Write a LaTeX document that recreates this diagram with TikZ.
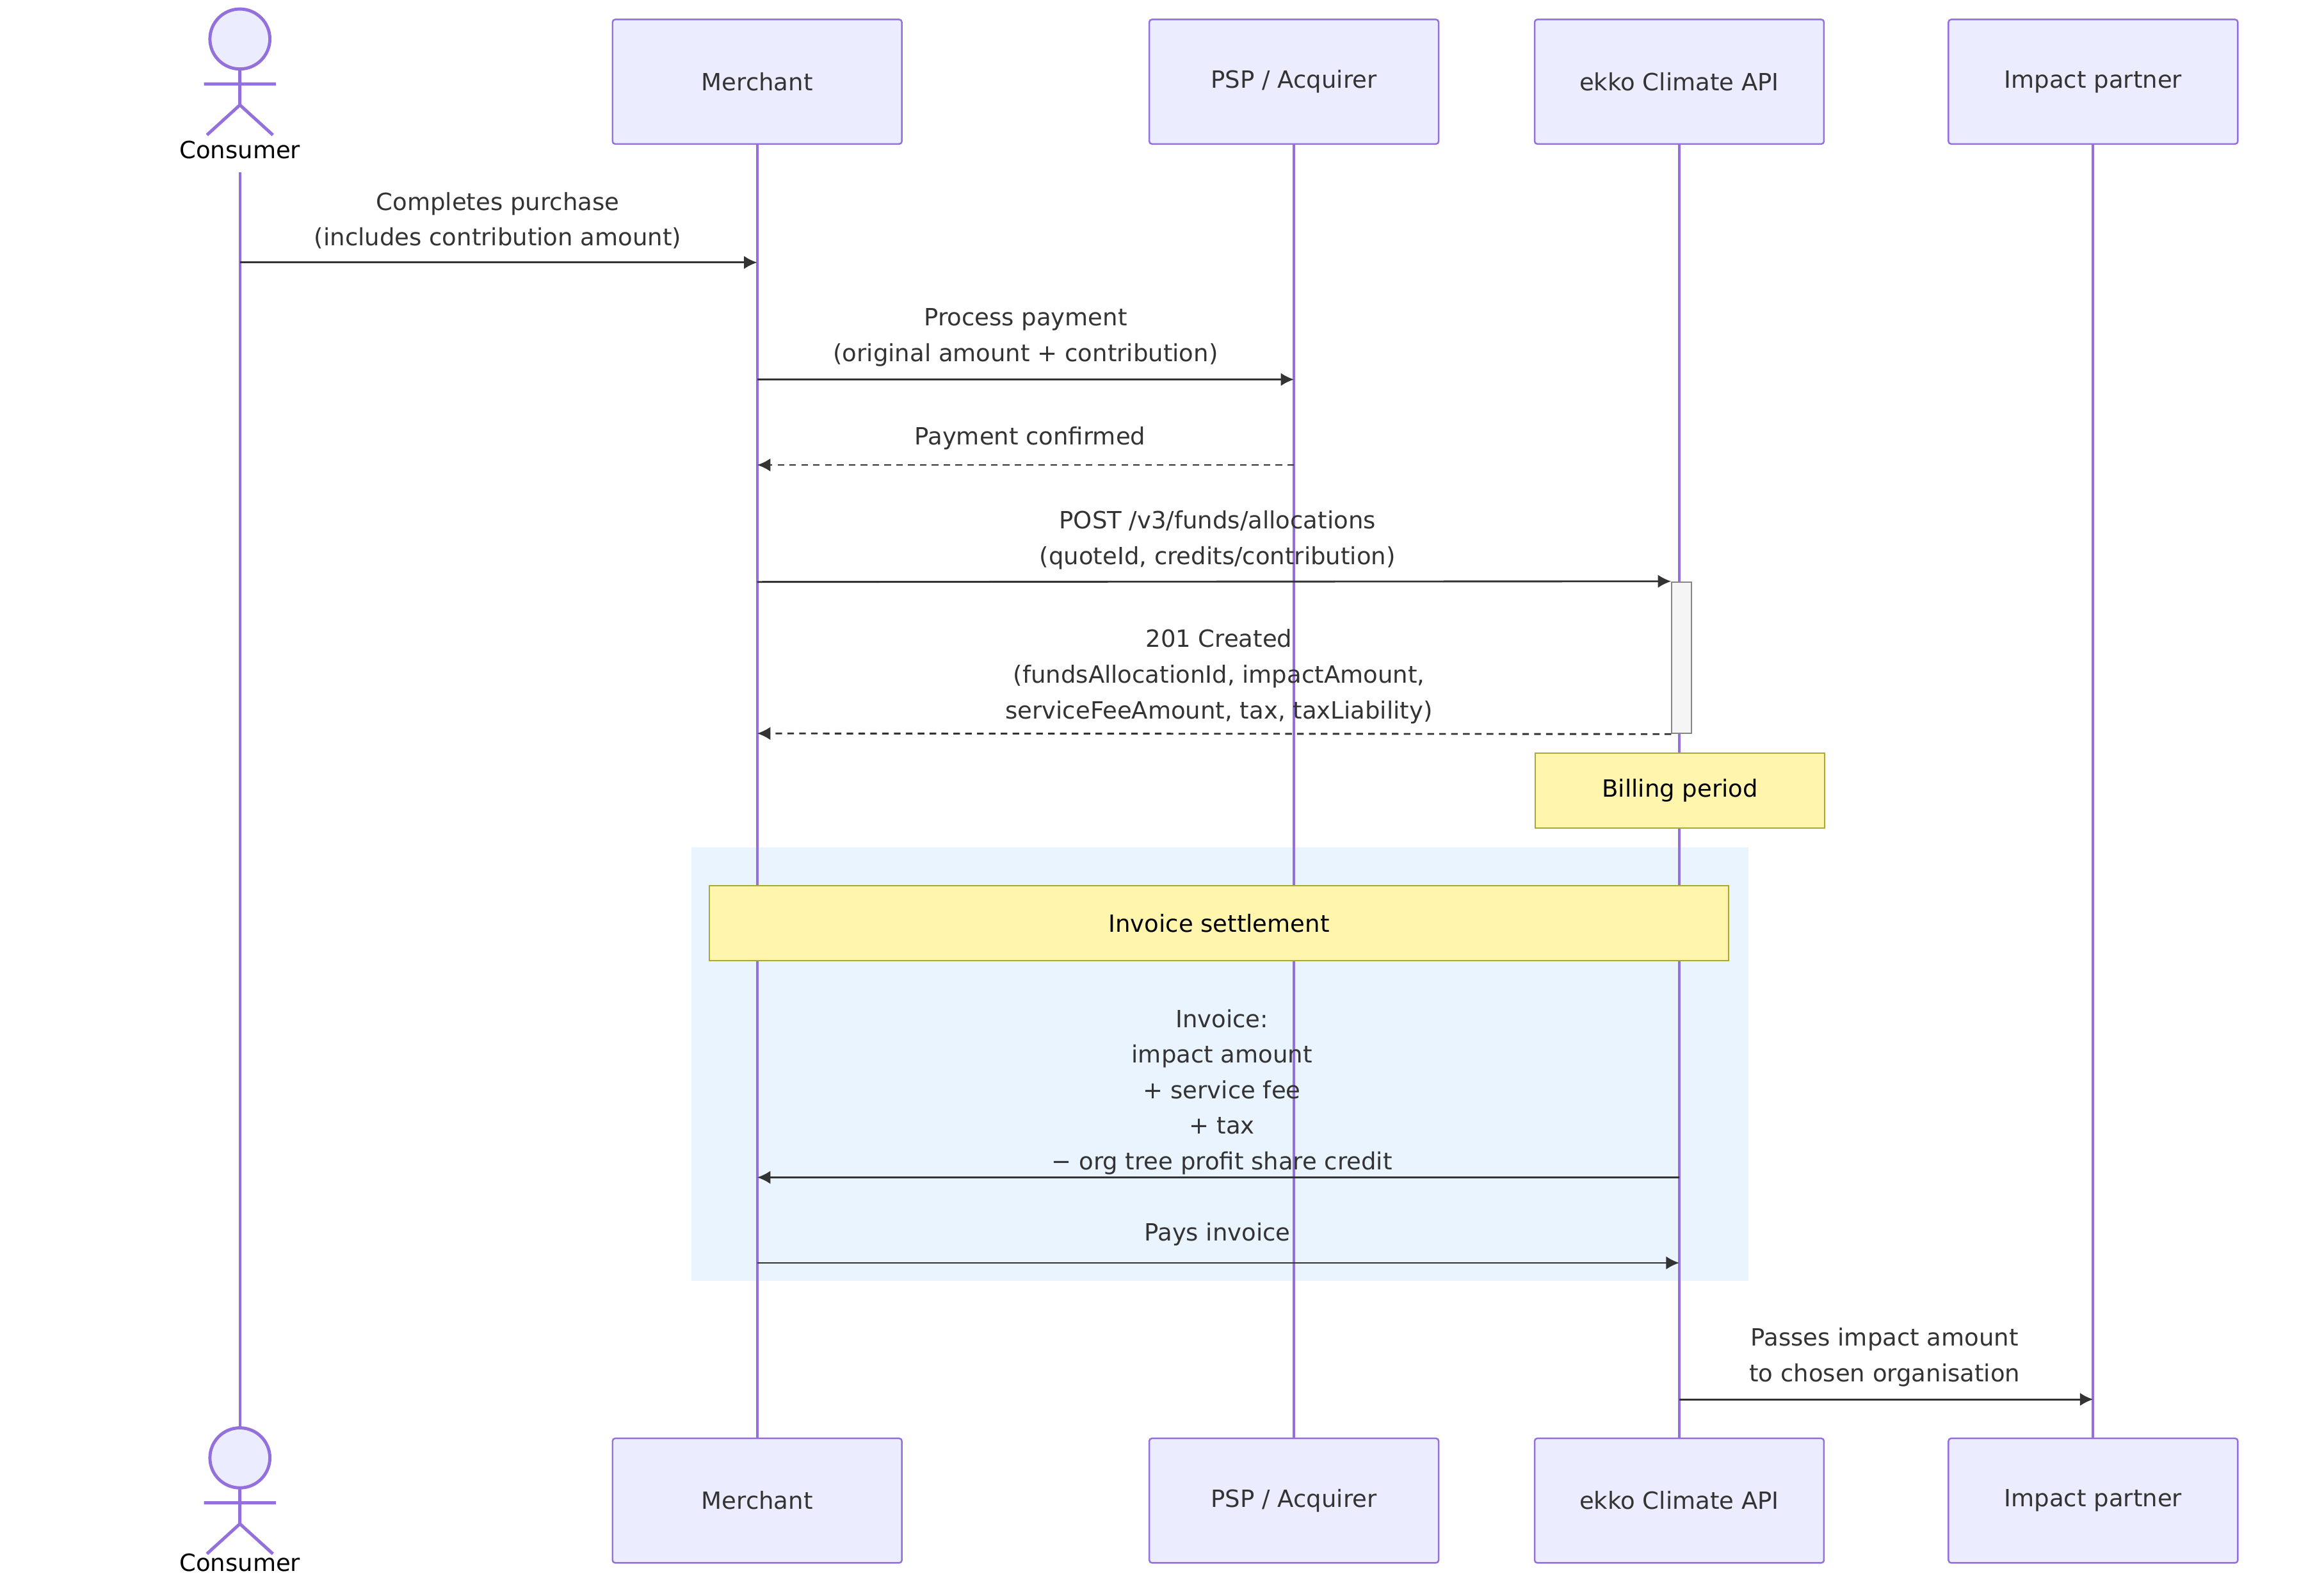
\documentclass[tikz,border=0pt]{standalone}
\usepackage{fontspec}
\setmainfont{DejaVu Sans}
\usetikzlibrary{positioning, arrows.meta}
\definecolor{lifeC}{HTML}{9370DB}
\definecolor{boxC}{HTML}{ECECFF}
\definecolor{noteC}{HTML}{FFF5AD}
\definecolor{noteB}{HTML}{AAAA33}
\definecolor{lineC}{HTML}{333333}
\definecolor{rectC}{HTML}{EAF4FF}

\begin{document}
\begin{tikzpicture}[x=0.02cm, y=-0.02cm, font=\fontsize{9}{13.5}\selectfont, text=lineC,
    part/.style={draw=lifeC, fill=boxC, rounded corners=1pt, minimum width=3.86cm, minimum height=1.66cm, line width=0.6pt},
    life/.style={draw=lifeC, line width=1pt},
    note/.style={draw=noteB, fill=noteC, minimum height=1cm, line width=0.5pt},
    msg/.style={draw=lineC, line width=0.7pt, -{Latex[length=5pt,width=5pt]}},
    reply/.style={msg, dashed, dash pattern=on 2.5pt off 2pt},
    lbl/.style={align=center, inner sep=1pt}]
    \useasboundingbox (0,0) rectangle (1550,1052);
    % settlement block
    \fill[rectC] (461,565) rectangle (1166,854);
    % participants
    \foreach \n/\x/\t in {merchant/505/Merchant, psp/863/{PSP / Acquirer}, ekko/1120/ekko Climate API, impact/1396/Impact partner}{
        \draw[life] (\x,96) -- (\x,959);
        \node[part] (\n) at (\x,54.5) {\t};
        \node[part] (\n b) at (\x,1000.5) {\t};
    }
    % actor
    \coordinate (consumer) at (160,0);
    \draw[life] (160,115) -- (160,952);
    \foreach \y/\s in {6/,952/b}{
        \draw[lifeC, line width=1.2pt, fill=boxC] (160,\y+20) circle (20);
        \draw[lifeC, line width=1.2pt] (160,\y+40) -- (160,\y+64) (136,\y+50) -- (184,\y+50)
            (160,\y+64) -- (138,\y+84) (160,\y+64) -- (182,\y+84);
    }
    \node[text=black] (consumerlbl) at (160,100) {Consumer};
    \node[text=black] (consumerlblb) at (160,1042) {Consumer};
    % activation
    \node[draw=lineC!60, fill=gray!8, minimum width=0.26cm, minimum height=2.02cm, inner sep=0, line width=0.5pt] (act) at (1121.5,438.5) {};
    % messages
    \draw[msg] (consumer |- 0,175) -- (merchant |- 0,175);
    \node[lbl] at (332,147) {Completes purchase\\(includes contribution amount)};
    \draw[msg] (merchant |- 0,253) -- (psp |- 0,253);
    \node[lbl] at (684,225) {Process payment\\(original amount + contribution)};
    \draw[reply] (psp |- 0,310) -- (merchant |- 0,310);
    \node[lbl] at (687,292) {Payment confirmed};
    \draw[msg] (merchant |- 0,388) -- (act.north west);
    \node[lbl] at (812,360) {POST /v3/funds/allocations\\(quoteId, credits/contribution)};
    \draw[reply] (act.south west) -- (merchant |- 0,489);
    \node[lbl] at (813,451) {201 Created\\(fundsAllocationId, impactAmount,\\serviceFeeAmount, tax, taxLiability)};
    \node[note, minimum width=3.86cm, text=black] (billing) at (1120.5,527) {Billing period};
    \node[note, minimum width=13.6cm, text=black] (settle) at (813,615.5) {Invoice settlement};
    \draw[msg] (ekko |- 0,785) -- (merchant |- 0,785);
    \node[lbl] at (815,728) {Invoice:\\impact amount\\+ service fee\\+ tax\\− org tree profit share credit};
    \draw[msg] (merchant |- 0,842) -- (ekko |- 0,842);
    \node[lbl] at (812,823) {Pays invoice};
    \draw[msg] (ekko |- 0,933) -- (impact |- 0,933);
    \node[lbl] at (1257,905) {Passes impact amount\\to chosen organisation};
\end{tikzpicture}
\end{document}
